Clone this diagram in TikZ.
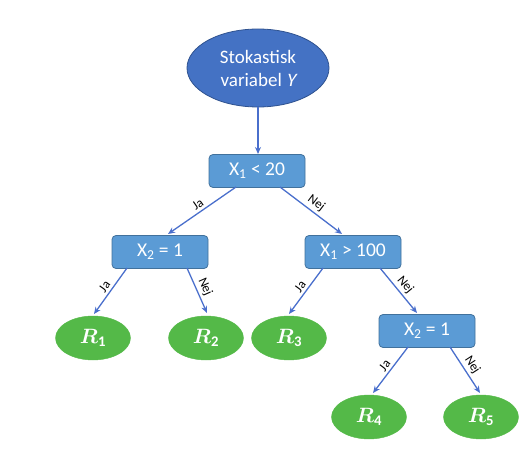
\documentclass[tikz,border=0pt]{standalone}
\usepackage{amsmath}
\usepackage{fontspec}
\setmainfont{Carlito}
\newfontfamily\slantfont{Carlito}[FakeSlant=0.2]
\usetikzlibrary{shapes.geometric,arrows.meta}
\definecolor{topblue}{HTML}{4472C4}
\definecolor{topedge}{HTML}{2F528F}
\definecolor{boxblue}{HTML}{5B9BD5}
\definecolor{boxedge}{HTML}{41719C}
\definecolor{leafgreen}{HTML}{54B948}
\definecolor{arrowblue}{HTML}{4A6FCC}
\tikzset{
  rootnode/.style={ellipse, draw=topedge, fill=topblue, line width=0.8pt, minimum width=142pt, minimum height=78pt, inner sep=0pt, text=white, font=\fontsize{19}{23}\selectfont, align=center},
  testbox/.style={rectangle, rounded corners=4pt, draw=boxedge, fill=boxblue, line width=0.8pt, minimum width=96pt, minimum height=33pt, inner sep=0pt, text=white, font=\fontsize{19.5}{22}\selectfont},
  leaf/.style={ellipse, draw=leafgreen, fill=leafgreen, minimum width=75pt, minimum height=44pt, inner sep=0pt, text=white, font=\fontsize{21}{24}\selectfont},
  conn/.style={draw=arrowblue, line width=1.3pt, -{Stealth[length=7pt,width=6pt]}},
  lbl/.style={font=\fontsize{13}{15}\selectfont, sloped, above, inner sep=2.5pt, text=black}
}
\begin{document}
\begin{tikzpicture}[x=1pt,y=-1pt]
\useasboundingbox (0,0) rectangle (526,462);
\node[rootnode] (root) at (258,68) {Stokastisk\\variabel {\slantfont Y}};
\node[testbox] (t1) at (257,171) {X\textsubscript{1} < 20};
\node[testbox] (t2) at (160,252) {X\textsubscript{2} = 1};
\node[testbox] (t3) at (353,252) {X\textsubscript{1} > 100};
\node[testbox] (t4) at (427,331) {X\textsubscript{2} = 1};
\node[leaf] (r1) at (93,338) {$\boldsymbol{R}_{\mathbf{1}}$};
\node[leaf] (r2) at (206,338) {$\boldsymbol{R}_{\mathbf{2}}$};
\node[leaf] (r3) at (289,338) {$\boldsymbol{R}_{\mathbf{3}}$};
\node[leaf] (r4) at (369,417) {$\boldsymbol{R}_{\mathbf{4}}$};
\node[leaf] (r5) at (481,417) {$\boldsymbol{R}_{\mathbf{5}}$};
\coordinate (e0) at (258,154);
\draw[conn] (root) -- (e0);
\coordinate (a1) at (236,187); \coordinate (b1) at (168,234);
\coordinate (a2) at (280,187); \coordinate (b2) at (342,234);
\coordinate (a3) at (127,268); \coordinate (b3) at (94,314);
\coordinate (a4) at (187,268); \coordinate (b4) at (207,313);
\coordinate (a5) at (323,268); \coordinate (b5) at (289,314);
\coordinate (a6) at (380,268); \coordinate (b6) at (417,313);
\coordinate (a7) at (408,347); \coordinate (b7) at (373,393);
\coordinate (a8) at (450,347); \coordinate (b8) at (480,393);
\draw[conn] (a1) -- node[lbl] {Ja} (b1);
\draw[conn] (a2) -- node[lbl] {Nej} (b2);
\draw[conn] (a3) -- node[lbl] {Ja} (b3);
\draw[conn] (a4) -- node[lbl] {Nej} (b4);
\draw[conn] (a5) -- node[lbl] {Ja} (b5);
\draw[conn] (a6) -- node[lbl] {Nej} (b6);
\draw[conn] (a7) -- node[lbl] {Ja} (b7);
\draw[conn] (a8) -- node[lbl] {Nej} (b8);
\end{tikzpicture}
\end{document}
